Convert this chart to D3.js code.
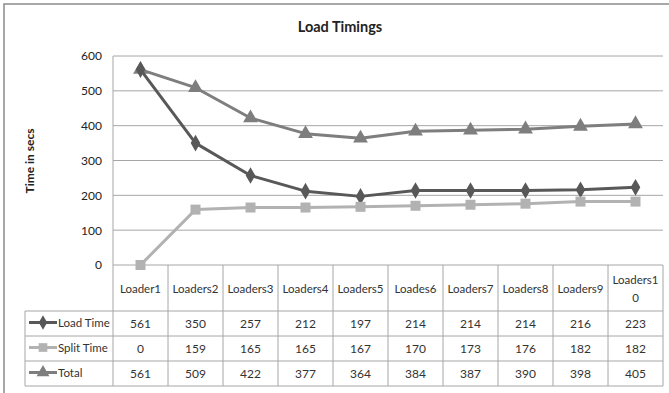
<!DOCTYPE html>
<html>
<head>
<meta charset="utf-8">
<script src="https://cdn.jsdelivr.net/npm/d3@7"></script>
<style>
  body { margin: 0; background: #fff; }
  svg text { font-family: Lato, "Open Sans", sans-serif; fill: #222; }
</style>
</head>
<body>
<svg id="chart" width="669" height="393"></svg>
<script>
var categories = ["Loader1", "Loaders2", "Loaders3", "Loaders4", "Loaders5", "Loades6", "Loaders7", "Loaders8", "Loaders9", "Loaders10"];
var loadTime  = [561, 350, 257, 212, 197, 214, 214, 214, 216, 223];
var splitTime = [0, 159, 165, 165, 167, 170, 173, 176, 182, 182];
var total     = [561, 509, 422, 377, 364, 384, 387, 390, 398, 405];
var yTicks = [0, 100, 200, 300, 400, 500, 600];

var series = [
  {name: "Load Time",  values: loadTime,  color: "#585858", symbol: d3.symbolDiamond,  size: 80},
  {name: "Split Time", values: splitTime, color: "#b2b2b2", symbol: d3.symbolSquare,   size: 100},
  {name: "Total",      values: total,     color: "#7e7e7e", symbol: d3.symbolTriangle, size: 95}
];

var svg = d3.select("#chart");
var plot = {left: 113, right: 663, top: 56, bottom: 265};
var rowH = 25, headerBottom = 311, tableLeft = 25;

// outer frame (only top and left visible in the crop)
svg.append("path")
  .attr("d", "M4,393 V4 H669")
  .attr("fill", "none").attr("stroke", "#8c8c8c").attr("stroke-width", 1.5);

var x = d3.scaleBand().domain(categories).range([plot.left, plot.right]);
var y = d3.scaleLinear().domain([0, 600]).range([plot.bottom, plot.top]);

// title
svg.append("text").attr("x", 340).attr("y", 32)
  .attr("text-anchor", "middle").style("font-size", "14.5px").style("font-weight", "bold")
  .text("Load Timings");

svg.append("text")
  .attr("transform", "translate(34,161) rotate(-90)")
  .attr("text-anchor", "middle").style("font-size", "12px").style("font-weight", "bold")
  .text("Time in secs");

// gridlines
svg.append("g").selectAll("line").data(yTicks.filter(d => d > 0)).enter().append("line")
  .attr("x1", plot.left).attr("x2", plot.right)
  .attr("y1", d => y(d)).attr("y2", d => y(d))
  .attr("stroke", "#a6a6a6").attr("stroke-width", 1);

// y axis
var yAxis = svg.append("g").attr("transform", "translate(" + plot.left + ",0)")
  .call(d3.axisLeft(y).tickValues(yTicks).tickSize(0).tickPadding(11));
yAxis.select(".domain").remove();
yAxis.selectAll("text").style("font-size", "12px").style("fill", "#222")
  .style("font-family", "Lato, 'Open Sans', sans-serif");

// table grid
var gridColor = "#a6a6a6";
var tg = svg.append("g").attr("stroke", gridColor).attr("stroke-width", 1);
tg.append("line").attr("x1", plot.left).attr("x2", plot.left).attr("y1", plot.top).attr("y2", headerBottom + 3 * rowH);
tg.append("line").attr("x1", plot.left).attr("x2", plot.right).attr("y1", plot.bottom).attr("y2", plot.bottom);
[0, 1, 2, 3].forEach(function(i) {
  tg.append("line").attr("x1", tableLeft).attr("x2", plot.right)
    .attr("y1", headerBottom + i * rowH).attr("y2", headerBottom + i * rowH);
});
tg.append("line").attr("x1", tableLeft).attr("x2", tableLeft).attr("y1", headerBottom).attr("y2", headerBottom + 3 * rowH);
tg.selectAll("line.col").data(categories).enter().append("line").attr("class", "col")
  .attr("x1", d => x(d) + x.bandwidth()).attr("x2", d => x(d) + x.bandwidth())
  .attr("y1", plot.bottom).attr("y2", headerBottom + 3 * rowH);

// header labels
svg.append("g").selectAll("text").data(categories).enter().append("text")
  .attr("x", d => x(d) + x.bandwidth() / 2)
  .attr("text-anchor", "middle").style("font-size", "11.5px").style("fill", "#333")
  .each(function(d) {
    var t = d3.select(this);
    if (d === "Loaders10") {
      t.append("tspan").attr("x", x(d) + x.bandwidth() / 2).attr("y", 284).text("Loaders1");
      t.append("tspan").attr("x", x(d) + x.bandwidth() / 2).attr("y", 302).text("0");
    } else {
      t.attr("y", 293).text(d);
    }
  });

// rows
series.forEach(function(s, r) {
  var cy = headerBottom + r * rowH + rowH / 2;
  var g = svg.append("g");
  g.append("line").attr("x1", 29).attr("x2", 57).attr("y1", cy - 1).attr("y2", cy - 1)
    .attr("stroke", s.color).attr("stroke-width", 3);
  g.append("path").attr("d", d3.symbol().type(s.symbol).size(s.size * 0.75)())
    .attr("transform", "translate(43," + (cy - 1) + ")").attr("fill", s.color);
  g.append("text").attr("x", 58).attr("y", cy + 3).style("font-size", "11.5px").style("fill", "#333").text(s.name);
  g.selectAll("text.v").data(s.values).enter().append("text").attr("class", "v")
    .attr("x", (d, i) => x(categories[i]) + x.bandwidth() / 2).attr("y", cy + 4)
    .attr("text-anchor", "middle").style("font-size", "12px").style("fill", "#333")
    .text(d => d);
});

// lines and markers
var line = d3.line().x((d, i) => x(categories[i]) + x.bandwidth() / 2).y(d => y(d));
[2, 0, 1].forEach(function(k) {
  var s = series[k];
  svg.append("path").datum(s.values).attr("d", line)
    .attr("fill", "none").attr("stroke", s.color).attr("stroke-width", 3).attr("stroke-linejoin", "round");
  svg.append("g").selectAll("path").data(s.values).enter().append("path")
    .attr("d", d3.symbol().type(s.symbol).size(s.size)())
    .attr("transform", (d, i) => "translate(" + (x(categories[i]) + x.bandwidth() / 2) + "," + y(d) + ")")
    .attr("fill", s.color);
});
</script>
</body>
</html>
